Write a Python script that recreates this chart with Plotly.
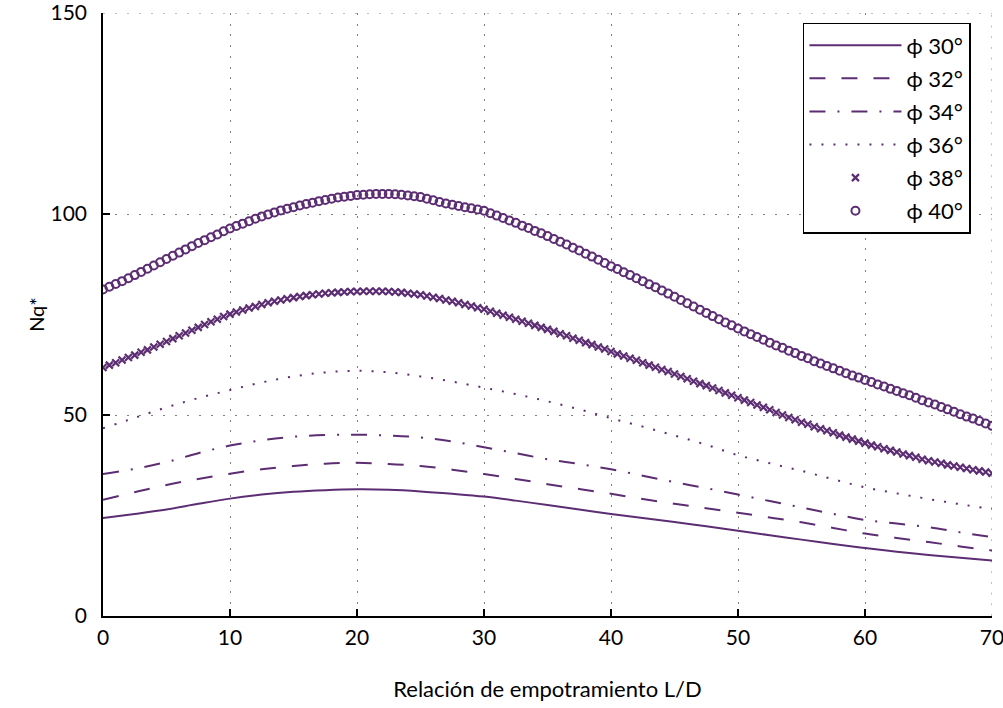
import plotly.graph_objects as go

# ---------------- data ----------------
x_line = [i * 2.5 for i in range(29)]          # 0 .. 70 step 2.5
x_dense = [i * 0.5 for i in range(141)]        # 0 .. 70 step 0.5

phi30 = [24.4, 25.4, 26.5, 27.9, 29.2, 30.2, 30.9, 31.3, 31.5, 31.4,
         31.0, 30.4, 29.7, 28.7, 27.6, 26.5, 25.4, 24.4, 23.4, 22.3,
         21.2, 20.1, 19.0, 17.9, 16.9, 16.0, 15.2, 14.5, 13.8]
phi32 = [28.9, 30.8, 32.6, 34.1, 35.4, 36.5, 37.3, 37.9, 38.1, 37.8,
         37.3, 36.4, 35.3, 34.1, 32.8, 31.6, 30.4, 29.1, 27.9, 26.8,
         25.7, 24.5, 23.3, 21.9, 20.5, 19.4, 18.4, 17.3, 16.3]
phi34 = [35.3, 36.6, 38.3, 40.5, 42.4, 43.7, 44.6, 45.0, 45.1, 44.9,
         44.4, 43.4, 42.0, 40.5, 39.0, 37.8, 36.5, 34.9, 33.3, 31.8,
         30.2, 28.6, 27.0, 25.4, 23.9, 23.0, 22.1, 20.8, 19.6]
phi36 = [46.7, 49.3, 51.9, 54.2, 56.2, 58.1, 59.6, 60.6, 61.0, 60.6,
         59.6, 58.3, 56.8, 55.2, 53.4, 51.4, 49.2, 47.1, 44.9, 42.6,
         40.0, 38.0, 36.1, 34.0, 32.0, 30.5, 29.1, 27.8, 26.6]
phi38 = [61.8, 62.4, 63.0, 63.7, 64.3, 64.9, 65.6, 66.2, 66.9, 67.6,
         68.3, 69.0, 69.7, 70.4, 71.1, 71.8, 72.5, 73.2, 73.8, 74.5,
         75.1, 75.6, 76.1, 76.6, 77.0, 77.5, 77.9, 78.3, 78.6, 78.9,
         79.2, 79.5, 79.7, 79.9, 80.1, 80.3, 80.4, 80.5, 80.6, 80.7,
         80.7, 80.8, 80.8, 80.8, 80.8, 80.7, 80.6, 80.5, 80.3, 80.1,
         79.9, 79.6, 79.3, 79.0, 78.6, 78.3, 77.9, 77.5, 77.1, 76.7,
         76.3, 75.8, 75.3, 74.8, 74.3, 73.8, 73.3, 72.8, 72.3, 71.8,
         71.3, 70.8, 70.2, 69.7, 69.1, 68.6, 68.0, 67.5, 66.9, 66.4,
         65.8, 65.2, 64.7, 64.1, 63.6, 63.0, 62.4, 61.9, 61.3, 60.8,
         60.2, 59.6, 59.0, 58.4, 57.8, 57.3, 56.7, 56.1, 55.5, 54.9,
         54.3, 53.7, 53.1, 52.5, 51.9, 51.3, 50.6, 50.0, 49.4, 48.8,
         48.2, 47.7, 47.1, 46.6, 46.1, 45.6, 45.0, 44.5, 44.0, 43.5,
         43.0, 42.5, 42.1, 41.6, 41.2, 40.8, 40.3, 39.9, 39.5, 39.0,
         38.6, 38.3, 38.0, 37.6, 37.3, 37.0, 36.7, 36.4, 36.1, 35.8,
         35.5]
phi40 = [81.2, 81.9, 82.6, 83.3, 84.0, 84.8, 85.6, 86.4, 87.2, 88.0,
         88.8, 89.6, 90.4, 91.2, 92.0, 92.8, 93.5, 94.2, 94.9, 95.7,
         96.4, 97.0, 97.6, 98.2, 98.8, 99.4, 99.9, 100.4, 100.9, 101.3,
         101.7, 102.1, 102.5, 102.8, 103.2, 103.5, 103.8, 104.1, 104.3, 104.5,
         104.7, 104.8, 104.9, 105.0, 105.0, 105.0, 104.9, 104.8, 104.6, 104.4,
         104.2, 103.8, 103.4, 103.0, 102.6, 102.3, 102.0, 101.7, 101.4, 101.1,
         100.8, 100.2, 99.6, 99.0, 98.4, 97.8, 97.1, 96.5, 95.8, 95.2,
         94.5, 93.8, 93.1, 92.4, 91.6, 90.9, 90.1, 89.4, 88.6, 87.8,
         87.0, 86.3, 85.5, 84.8, 84.0, 83.3, 82.5, 81.8, 81.0, 80.2,
         79.4, 78.6, 77.8, 77.0, 76.2, 75.4, 74.6, 73.8, 73.0, 72.3,
         71.5, 70.8, 70.1, 69.4, 68.7, 68.0, 67.3, 66.7, 66.0, 65.4,
         64.7, 64.1, 63.4, 62.8, 62.2, 61.6, 61.0, 60.4, 59.8, 59.3,
         58.7, 58.2, 57.6, 57.1, 56.5, 56.0, 55.4, 54.9, 54.3, 53.7,
         53.1, 52.6, 52.0, 51.4, 50.8, 50.2, 49.6, 49.1, 48.5, 47.9,
         47.3]

names = ["ϕ 30°", "ϕ 32°", "ϕ 34°", "ϕ 36°", "ϕ 38°", "ϕ 40°"]
x_ticks = [0, 10, 20, 30, 40, 50, 60, 70]
y_ticks = [0, 50, 100, 150]

# ---------------- style ----------------
COLOR = "#5c2d73"
GRID = "#7f7f7f"
FONT = "Lato"

fig = go.Figure()

line_series = [(phi30, "solid"), (phi32, "16px,16px"),
               (phi34, "16px,12px,2px,12px"), (phi36, "2px,10px")]
for i, (ys, dash) in enumerate(line_series):
    fig.add_trace(go.Scatter(
        x=x_line, y=ys, mode="lines", name=names[i],
        line=dict(color=COLOR, width=2, dash=dash, shape="spline"),
        legendgroup=f"g{i}",
    ))

fig.add_trace(go.Scatter(
    x=x_dense, y=phi38, mode="markers", name=names[4], legendgroup="g4",
    marker=dict(symbol="x-thin", size=7, color=COLOR,
                line=dict(color=COLOR, width=2.2)),
))
fig.add_trace(go.Scatter(
    x=x_dense, y=phi40, mode="markers", name=names[5], legendgroup="g5",
    marker=dict(symbol="circle-open", size=8, color=COLOR,
                line=dict(color=COLOR, width=2)),
))

# dotted grid lines at the far ends of the axes (plotly skips them)
fig.add_shape(type="line", xref="paper", yref="y", x0=0, x1=1,
              y0=y_ticks[-1], y1=y_ticks[-1],
              line=dict(color=GRID, width=1, dash="2px,10px"), layer="below")
fig.add_shape(type="line", xref="x", yref="paper", x0=x_ticks[-1],
              x1=x_ticks[-1], y0=0, y1=1,
              line=dict(color=GRID, width=1, dash="2px,8.7px"), layer="below")

fig.update_layout(
    width=1003, height=708,
    margin=dict(l=103, r=11, t=13, b=92, autoexpand=False),
    paper_bgcolor="white", plot_bgcolor="white",
    font=dict(family=FONT, size=21, color="black"),
    showlegend=True,
    legend=dict(
        x=0.787, y=0.984, xanchor="left", yanchor="top",
        bgcolor="white", bordercolor="black", borderwidth=1.8,
        font=dict(family=FONT, size=22, color="black"),
        tracegroupgap=1.5, itemwidth=92,
    ),
    xaxis=dict(
        range=[0, 70], tickvals=x_ticks, ticks="inside", ticklen=7,
        tickcolor="black", tickwidth=1.5, ticklabeloverflow="allow",
        automargin=False,
        showline=True, linecolor="black", linewidth=1.5,
        showgrid=True, gridcolor=GRID, gridwidth=1, griddash="2px,8.7px",
        zeroline=False, ticklabelstandoff=2,
        title=dict(text="Relación de empotramiento L/D",
                   font=dict(family=FONT, size=22), standoff=34),
        tickfont=dict(family=FONT, size=21),
    ),
    yaxis=dict(
        range=[0, 150], tickvals=y_ticks, ticks="inside", ticklen=7,
        tickcolor="black", tickwidth=1.5, ticklabeloverflow="allow",
        automargin=False,
        showline=True, linecolor="black", linewidth=1.5,
        showgrid=True, gridcolor=GRID, gridwidth=1, griddash="2px,10px",
        zeroline=False, ticklabelstandoff=10,
        title=dict(text="Nq*", font=dict(family=FONT, size=20), standoff=1),
        tickfont=dict(family=FONT, size=21),
    ),
)

fig.write_html("out.html")
